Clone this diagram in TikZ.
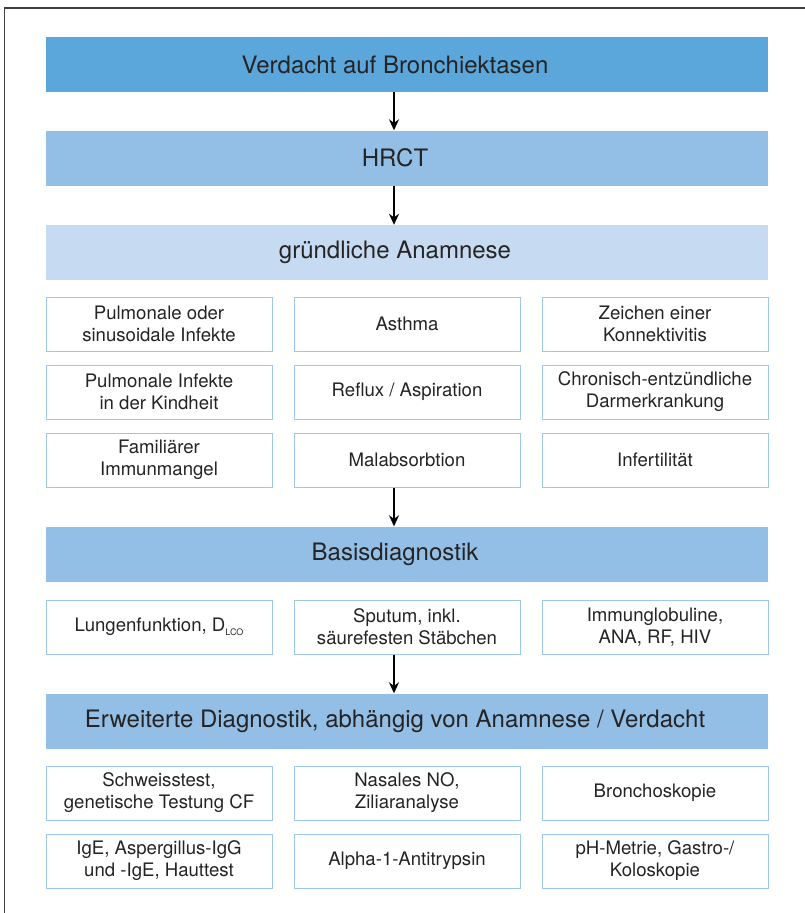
\documentclass[tikz,border=0pt]{standalone}
\usepackage{fontspec}
\setmainfont{TeX Gyre Heros}
\usetikzlibrary{arrows.meta}
\definecolor{bardark}{HTML}{5BA7DB}
\definecolor{barmid}{HTML}{93BFE6}
\definecolor{barlight}{HTML}{C6DBF1}
\definecolor{boxline}{HTML}{9DC8EC}
\definecolor{txt}{HTML}{252324}
\newcommand{\dlco}{D\raisebox{-0.35ex}{\fontsize{9}{9}\selectfont LCO}}
\begin{document}
\begin{tikzpicture}[
    x=1pt, y=-1pt,
    bar/.style={minimum width=722pt, minimum height=55pt, inner sep=0pt,
      text=txt, font=\fontsize{24}{26}\selectfont,
      execute at end node=\hspace*{24pt}},
    item/.style={draw=boxline, line width=1pt, minimum width=226pt,
      minimum height=54pt, inner sep=0pt, align=center, text=txt,
      font=\fontsize{18.6}{22}\selectfont},
    trans/.style={line width=1.8pt,-{Stealth[length=11pt,width=10pt]}}
    ]
    \useasboundingbox (0,0) rectangle (805,913);
    \draw[line width=1.5pt, draw=black!75] (4.5,913) -- (4.5,8) -- (805,8);
    \node[bar, fill=bardark] (verdacht) at (407,64.5) {Verdacht auf Bronchiektasen};
    \node[bar, fill=barmid] (hrct) at (407,158) {HRCT};
    \node[bar, fill=barlight] (anamnese) at (407,252.5) {gründliche Anamnese};
    \node[item] (infekte) at (159,324) {Pulmonale oder\\sinusoidale Infekte};
    \node[item] (asthma) at (407,324) {Asthma};
    \node[item] (konnektiv) at (655,324) {Zeichen einer\\Konnektivitis};
    \node[item] (kindheit) at (159,392) {Pulmonale Infekte\\in der Kindheit};
    \node[item] (reflux) at (407,392) {Reflux / Aspiration};
    \node[item] (darm) at (655,392) {Chronisch-entzündliche\\Darmerkrankung};
    \node[item] (immun) at (159,460) {Familiärer\\Immunmangel};
    \node[item] (malabs) at (407,460) {Malabsorbtion};
    \node[item] (infert) at (655,460) {Infertilität};
    \node[bar, fill=barmid] (basis) at (407,554) {Basisdiagnostik};
    \node[item] (lufu) at (159,627) {Lungenfunktion, \dlco};
    \node[item] (sputum) at (407,627) {Sputum, inkl.\\säurefesten Stäbchen};
    \node[item] (immunglob) at (655,627) {Immunglobuline,\\ANA, RF, HIV};
    \node[bar, fill=barmid] (erweitert) at (407,721) {Erweiterte Diagnostik, abhängig von Anamnese / Verdacht};
    \node[item] (schweiss) at (159,793) {Schweisstest,\\genetische Testung CF};
    \node[item] (nasal) at (407,793) {Nasales NO,\\Ziliaranalyse};
    \node[item] (broncho) at (655,793) {Bronchoskopie};
    \node[item] (ige) at (159,861) {IgE, Aspergillus-IgG\\und -IgE, Hauttest};
    \node[item] (alpha) at (407,861) {Alpha-1-Antitrypsin};
    \node[item] (ph) at (655,861) {pH-Metrie, Gastro-/\\Koloskopie};
    \draw[trans] ([xshift=-13pt]verdacht.south) -- ([xshift=-13pt]hrct.north);
    \draw[trans] ([xshift=-13pt]hrct.south) -- ([xshift=-13pt]anamnese.north);
    \draw[trans] ([xshift=-13pt]malabs.south) -- ([xshift=-13pt]basis.north);
    \draw[trans] ([xshift=-13pt]sputum.south) -- ([xshift=-13pt]erweitert.north);
  \end{tikzpicture}
\end{document}
